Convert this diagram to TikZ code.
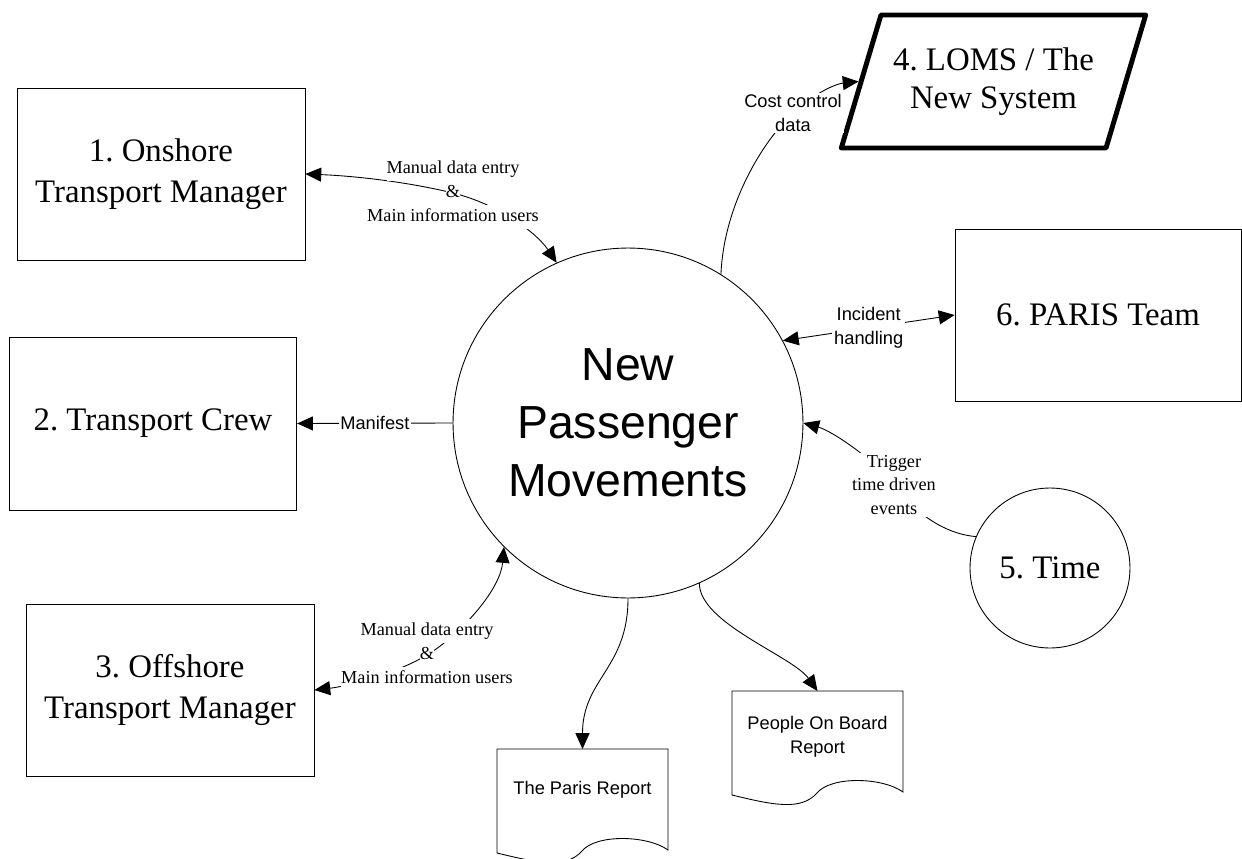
\documentclass[tikz,border=0pt]{standalone}
\usepackage{fontspec}
\setmainfont{Liberation Serif}
\setsansfont{Liberation Sans}
\usepackage{tikz}
\usetikzlibrary{arrows.meta,shapes.geometric}
\frenchspacing
\newcommand{\wb}[1]{{\setlength{\fboxsep}{0pt}\colorbox{white}{\strut #1}}}

\begin{document}
\begin{tikzpicture}[x=0.02cm, y=-0.02cm,
  ent/.style={draw, line width=0.5pt, minimum width=5.76cm, minimum height=3.44cm, align=center, font=\fontsize{18.7}{23.5}\selectfont},
  proc/.style={draw, circle, line width=0.5pt, inner sep=0pt, align=center},
  flow/.style={line width=0.5pt, -{Triangle[length=9pt,width=8pt]}},
  flowboth/.style={line width=0.5pt, {Triangle[length=9pt,width=8pt]}-{Triangle[length=9pt,width=8pt]}},
  lbl/.style={fill=white, inner sep=1pt, align=center, font=\fontsize{10.4}{13.6}\sffamily},
  lblrm/.style={lbl, font=\fontsize{10.4}{13.6}\selectfont},
  lblrow/.style={inner sep=0pt, align=center, font=\fontsize{10.4}{13.6}\selectfont},
  doc/.style={align=center, font=\fontsize{10.4}{13.6}\sffamily}]
\useasboundingbox (0,0) rectangle (1242,859);
% entities
\node[ent] (onshore) at (161,174) {1. Onshore\\Transport Manager};
\node[ent, minimum width=5.75cm, minimum height=3.46cm] (crew) at (153,423.5) {2. Transport Crew};
\node[ent] (offshore) at (170,690) {3. Offshore\\Transport Manager};
\node[ent, minimum width=5.72cm] (paristeam) at (1098,315) {6. PARIS Team};
\node[draw, trapezium, trapezium left angle=65, trapezium right angle=115, trapezium stretches=true,
  minimum width=6.1cm, minimum height=2.66cm, line width=2.8pt, line join=round, align=center,
  font=\fontsize{18.7}{22}\selectfont] (loms) at (993.5,81.5) {4. LOMS / The\\New System};
\node[proc, minimum size=3.2cm, font=\fontsize{18.7}{22}\selectfont] (time) at (1050,568) {5. Time};
% process
\node[proc, minimum size=7cm, font=\fontsize{26.4}{33}\sffamily] (npm) at (628,423) {New\\Passenger\\Movements};
% reports
\node[doc] (parisrep) at (582.5,790) {The Paris Report};
\node[doc] (pob) at (817.5,736.5) {People On Board\\Report};
\coordinate (parisrep-top) at (582.5,749);
\coordinate (pob-top) at (817.5,691);
\draw[line width=0.5pt, shift={(497,749)}] (0,0) -- (171,0) -- (171,101) .. controls (150,86) and (99,85) .. (85,102)
  .. controls (69,120) and (41,114) .. (0,104) -- cycle;
\draw[line width=0.5pt, shift={(732,691)}] (0,0) -- (171,0) -- (171,101) .. controls (150,86) and (99,85) .. (85,102)
  .. controls (69,120) and (41,114) .. (0,104) -- cycle;
% flows
\coordinate (c1) at (453,193);
\coordinate (c3) at (427,655);
\coordinate (c4) at (793,113);
\coordinate (c5) at (894,485);
\draw[flowboth] (onshore.east) .. controls +(50,2) and +(-45,-11) .. (c1) .. controls +(45,11) and +(-20,-30) .. (npm.114);
\draw[flow] (npm.west) -- node[lbl] (l2) {Manifest} (crew.east);
\draw[flowboth] (offshore.east) .. controls +(35,-4) and +(-30,18) .. (c3) .. controls +(30,-18) and +(-4,45) .. (npm.225);
\draw[flow] (npm.58) .. controls +(3,-70) and +(-30,28) .. (c4) .. controls +(25,-23) and +(-20,2) .. (loms.west);
\draw[flow] (time.157) .. controls +(-35,-3) and +(18,24) .. (c5) .. controls +(-18,-24) and +(29,8) .. (npm.east);
\draw[flowboth] (npm.28) -- node[lbl] (l6) {Incident\\handling} (paristeam.west);
\draw[flow] (npm.south) .. controls +(0,70) and +(0,-70) .. (parisrep-top);
\draw[flow] (npm.294) .. controls +(0,40) and +(-25,-35) .. (pob-top);
% labels
\node[lblrow] (l1) at (c1) {\wb{Manual data entry}\\\wb{\&}\\\wb{Main information users}};
\node[lblrow] (l3) at (c3) {\wb{Manual data entry}\\\wb{\&}\\\wb{Main information users}};
\node[lbl] (l4) at (c4) {Cost control\\data};
\node[lblrm] (l5) at (c5) {Trigger\\time driven\\events};
\end{tikzpicture}
\end{document}
